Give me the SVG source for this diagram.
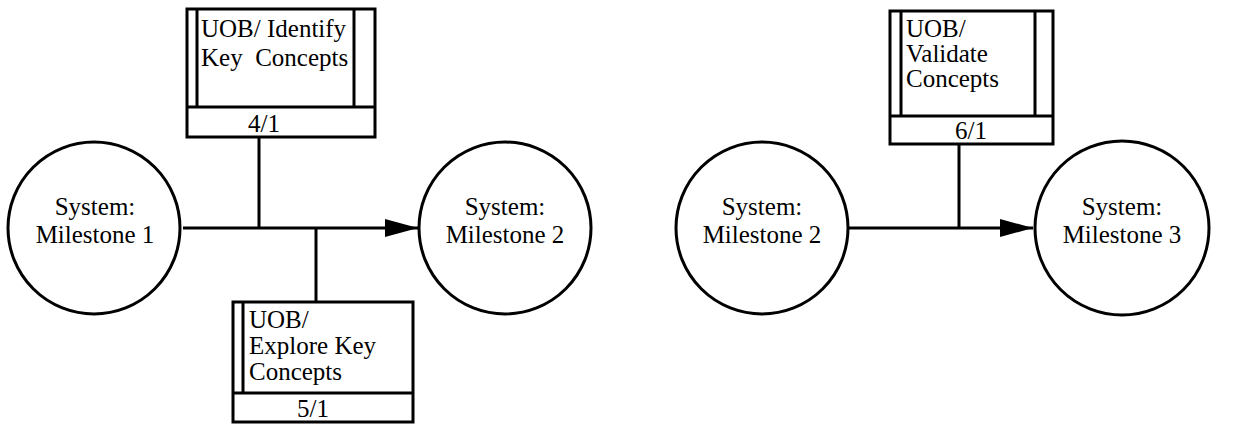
<svg xmlns="http://www.w3.org/2000/svg" width="1257" height="424" viewBox="0 0 1257 424">
<style>
.ln{stroke:#000;stroke-width:3;fill:none}
.bx{stroke:#000;stroke-width:3;fill:#fff}
.t{font-family:"Liberation Serif","Times New Roman",serif;font-size:25px;fill:#000}
.c{text-anchor:middle}
</style>
<defs>
<marker id="arr" markerUnits="userSpaceOnUse" markerWidth="36" markerHeight="20" refX="33" refY="9" orient="auto">
<path d="M0,0 L33,9 L0,18 Z" fill="#000"/>
</marker>
</defs>
<rect width="1257" height="424" fill="#fff"/>
<g id="connectors">
<line class="ln" x1="183" y1="228" x2="418" y2="228" marker-end="url(#arr)"/>
<line class="ln" x1="259" y1="137" x2="259" y2="228"/>
<line class="ln" x1="316" y1="228" x2="316" y2="302"/>
<line class="ln" x1="849" y1="228" x2="1033" y2="228" marker-end="url(#arr)"/>
<line class="ln" x1="959" y1="144" x2="959" y2="228"/>
</g>
<g id="m1">
<circle class="bx" cx="94" cy="228" r="86"/>
<text class="t c" x="95" y="215">System:<tspan x="95" y="243">Milestone 1</tspan></text>
</g>
<g id="m2a">
<circle class="bx" cx="505" cy="228" r="86"/>
<text class="t c" x="505" y="215">System:<tspan x="505" y="243">Milestone 2</tspan></text>
</g>
<g id="m2b">
<circle class="bx" cx="762" cy="228" r="86"/>
<text class="t c" x="762" y="215">System:<tspan x="762" y="243">Milestone 2</tspan></text>
</g>
<g id="m3">
<circle class="bx" cx="1122" cy="228" r="87"/>
<text class="t c" x="1122" y="215">System:<tspan x="1122" y="243">Milestone 3</tspan></text>
</g>
<g id="uob41">
<rect class="bx" x="187" y="9" width="188" height="128"/>
<line class="ln" x1="187" y1="107" x2="375" y2="107"/>
<line class="ln" x1="197" y1="9" x2="197" y2="107"/>
<line class="ln" x1="354" y1="9" x2="354" y2="107"/>
<text class="t" x="201" y="37" xml:space="preserve">UOB/ Identify<tspan x="201" y="66">Key  Concepts</tspan></text>
<text class="t c" x="264" y="132">4/1</text>
</g>
<g id="uob51">
<rect class="bx" x="233" y="302" width="180" height="120"/>
<line class="ln" x1="233" y1="393" x2="413" y2="393"/>
<line class="ln" x1="243" y1="302" x2="243" y2="393"/>
<text class="t" x="249" y="328">UOB/<tspan x="249" y="354">Explore Key</tspan><tspan x="249" y="380">Concepts</tspan></text>
<text class="t c" x="313" y="417">5/1</text>
</g>
<g id="uob61">
<rect class="bx" x="890" y="11" width="163" height="133"/>
<line class="ln" x1="890" y1="116" x2="1053" y2="116"/>
<line class="ln" x1="901" y1="11" x2="901" y2="116"/>
<line class="ln" x1="1035" y1="11" x2="1035" y2="116"/>
<text class="t" x="906" y="37">UOB/<tspan x="906" y="62">Validate</tspan><tspan x="906" y="87">Concepts</tspan></text>
<text class="t c" x="971" y="139">6/1</text>
</g>
</svg>
